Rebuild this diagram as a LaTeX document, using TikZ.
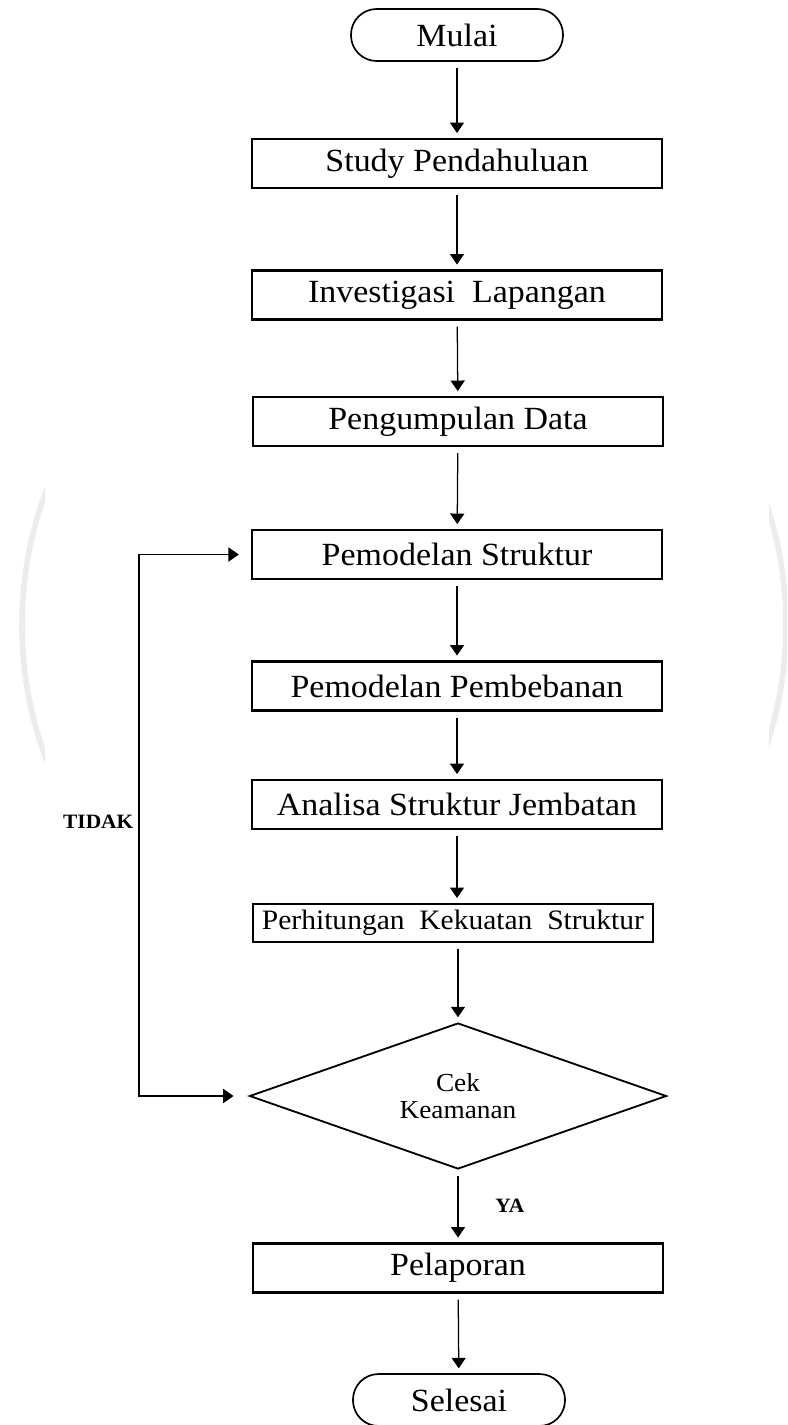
\documentclass[tikz,border=0pt]{standalone}
\usepackage{fontspec}
\setmainfont[FakeStretch=1.05]{Liberation Serif}
\usetikzlibrary{arrows.meta,shapes.geometric}

\begin{document}
\begin{tikzpicture}[boxND/.style={rectangle,
                                  draw=black,
                                  line width=1.6pt,
                                  minimum width=10.25cm,
                                  minimum height=1.225cm,
                                  inner sep=0pt,
                                  font=\fontsize{23}{27}\selectfont},
                    endND/.style={rectangle,
                                  rounded corners=0.64cm,
                                  draw=black,
                                  line width=1.2pt,
                                  minimum width=5.3cm,
                                  minimum height=1.3cm,
                                  inner sep=0pt,
                                  font=\fontsize{23}{27}\selectfont},
                    decND/.style={diamond,
                                  draw=black,
                                  line width=1.3pt,
                                  aspect=2.86,
                                  minimum width=10.425cm,
                                  minimum height=3.65cm,
                                  inner sep=0pt,
                                  align=center,
                                  font=\fontsize{18.5}{19}\selectfont},
                    arr/.style={-{Triangle[width=10pt,length=7.5pt]},
                                line width=0.9pt,
                                shorten <=0.15cm,
                                shorten >=0.12cm},
                    lbl/.style={font=\bfseries\fontsize{14.5}{16}\selectfont}]
            \useasboundingbox (0,0) rectangle (19.675,-35.625);
            % faint watermark at the margins
            \begin{scope}
                \clip (0,-12) rectangle (1.125,-19.5) (19.225,-12) rectangle (19.675,-19.5);
                \draw[gray!15, line width=4pt] (10.1,-15.625) circle (9.55);
            \end{scope}
            \node[endND](mulai)  at (11.425,-0.875)   {Mulai};
            \node[boxND](study)  at (11.425,-4.0875)  {Study Pendahuluan};
            \node[boxND](invest) at (11.425,-7.375)   {Investigasi\ \ Lapangan};
            \node[boxND](data)   at (11.45,-10.5375)  {Pengumpulan Data};
            \node[boxND](model)  at (11.425,-13.8625) {Pemodelan Struktur};
            \node[boxND](beban)  at (11.425,-17.15)   {Pemodelan Pembebanan};
            \node[boxND](analisa) at (11.425,-20.1125){Analisa Struktur Jembatan};
            \node[boxND, minimum width=10cm, minimum height=0.95cm,
                  font=\fontsize{20}{23}\selectfont](hitung) at (11.325,-23.075)
                  {Perhitungan\ \ Kekuatan\ \ Struktur};
            \node[decND](cek)    at (11.45,-27.4)    {Cek\\Keamanan};
            \node[boxND](pel)    at (11.45,-31.7)    {Pelaporan};
            \node[endND](sel)    at (11.475,-35.0)   {Selesai};
            \coordinate (loop) at (3.475,-27.425);
            \path
                (mulai)   edge [arr] (study)
                (study)   edge [arr] (invest)
                (invest)  edge [arr] (data)
                (data)    edge [arr] (model)
                (model)   edge [arr] (beban)
                (beban)   edge [arr] (analisa)
                (analisa) edge [arr] (analisa |- hitung.north)
                (hitung.south -| cek) edge [arr] (cek)
                (cek)     edge [arr] node[right=0.8cm, lbl] {YA} (pel)
                (pel)     edge [arr] (sel)
                ;
            \draw[{Triangle[width=10pt,length=7.5pt]}-{Triangle[width=10pt,length=7.5pt]},
                  line width=1.4pt, shorten <=0.375cm, shorten >=0.3cm]
                (cek.west) -- (cek.west -| loop) |- node[pos=0.2535, left, lbl] {TIDAK} (model.west);
\end{tikzpicture}
\end{document}
